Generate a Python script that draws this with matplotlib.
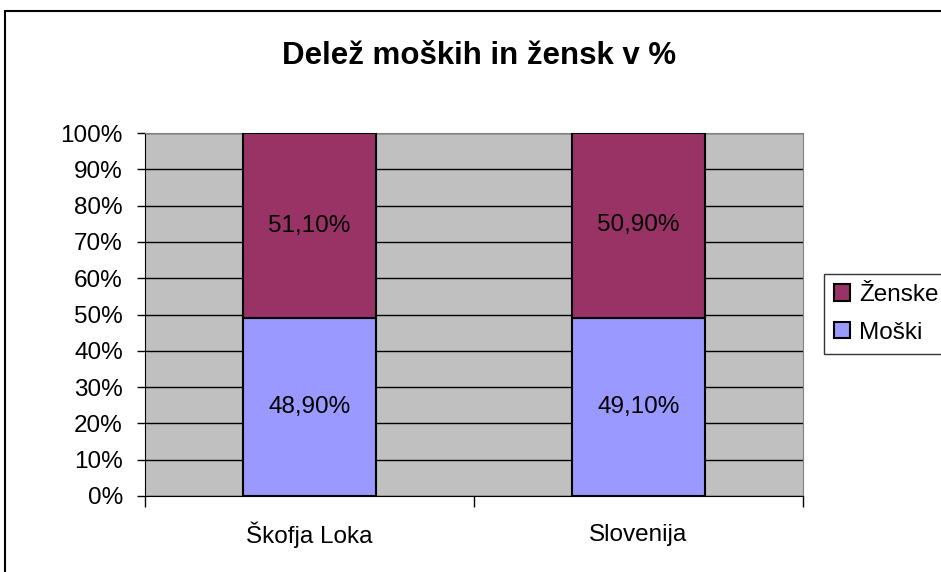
import matplotlib.pyplot as plt
import matplotlib.patches as mpatches
import numpy as np

plt.rcParams['font.family'] = ['Liberation Sans', 'DejaVu Sans']

# podatki
kraji = ["Škofja Loka", "Slovenija"]
moski = [48.9, 49.1]
zenske = [51.1, 50.9]
oznake_m = ["48,90%", "49,10%"]
oznake_z = ["51,10%", "50,90%"]
yticks = np.arange(0, 101, 10)

W, H = 941, 572
fs = 17.5
fig = plt.figure(figsize=(W / 100, H / 100), dpi=100)

# okvir grafikona
fig.patches.append(mpatches.Rectangle((5 / W, -0.05), 1.0, 1 - 11 / H + 0.05,
                                      transform=fig.transFigure, fill=False,
                                      edgecolor='black', linewidth=1.5))

ax = fig.add_axes([145 / W, (H - 496) / H, 658 / W, 363 / H])
ax.set_facecolor('#C0C0C0')

x = np.arange(len(kraji))
sirina = 0.405
b1 = ax.bar(x, moski, sirina, color='#9999FF', edgecolor='black', linewidth=1.5,
            label='Moški', zorder=3)
b2 = ax.bar(x, zenske, sirina, bottom=moski, color='#993366', edgecolor='black',
            linewidth=1.5, label='Ženske', zorder=3)

for i in range(len(kraji)):
    ax.text(x[i], moski[i] / 2, oznake_m[i], ha='center', va='center', fontsize=fs, zorder=4)
    ax.text(x[i], moski[i] + zenske[i] / 2, oznake_z[i], ha='center', va='center',
            fontsize=fs, zorder=4)

ax.set_xlim(-0.5, 1.5)
ax.set_ylim(0, 100)
ax.set_yticks(yticks)
ax.set_yticklabels([f"{v}%" for v in yticks], fontsize=fs)
ax.yaxis.grid(True, color='black', linewidth=1)
ax.set_axisbelow(True)
ax.tick_params(axis='y', length=6, width=1, pad=10)

# kategorije in ločilne oznake
ax.set_xticks([-0.5, 0.5, 1.5])
ax.set_xticklabels([])
ax.tick_params(axis='x', length=8, width=1)
for i, k in enumerate(kraji):
    ax.text(x[i], -10.7, k, ha='center', va='center', fontsize=fs)

for s in ['top', 'right']:
    ax.spines[s].set_color('#808080')
ax.spines['left'].set_color('black')
ax.spines['bottom'].set_color('black')

fig.text(479 / W, 1 - 56 / H, "Delež moških in žensk v %", ha='center', va='center',
         fontsize=22.5, fontweight='bold')

leg = fig.legend(handles=[b2, b1], labels=['Ženske', 'Moški'], loc='center left',
                 bbox_to_anchor=(824 / W, 1 - 314 / H), fontsize=fs, frameon=True,
                 fancybox=False, edgecolor='black', handlelength=0.65, handleheight=0.65,
                 handletextpad=0.4, borderpad=0.4, labelspacing=0.65, borderaxespad=0)
leg.get_frame().set_linewidth(1)

plt.savefig("out.png", dpi=100)
